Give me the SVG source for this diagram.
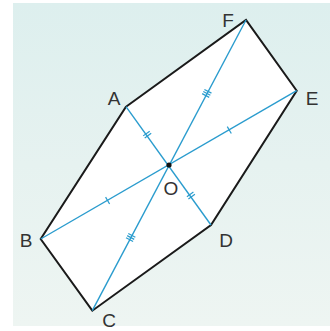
<svg xmlns="http://www.w3.org/2000/svg" width="330" height="331" viewBox="0 0 330 331">
<defs>
<linearGradient id="bg" x1="0" y1="0" x2="0" y2="1">
<stop offset="0" stop-color="#ddefee"/>
<stop offset="0.5" stop-color="#e6f2f0"/>
<stop offset="1" stop-color="#eef5f2"/>
</linearGradient>
<g id="t1"><line x1="0" y1="-4" x2="0" y2="4"/></g>
<g id="t2"><line x1="-1.3" y1="-4" x2="-1.3" y2="4"/><line x1="1.3" y1="-4" x2="1.3" y2="4"/></g>
<g id="t3"><line x1="-2.4" y1="-4" x2="-2.4" y2="4"/><line x1="0" y1="-4" x2="0" y2="4"/><line x1="2.4" y1="-4" x2="2.4" y2="4"/></g>
</defs>
<style>
.side{fill:#ffffff;stroke:#1a1a1a;stroke-width:2;stroke-linejoin:miter}
.diag{stroke:#2a9cce;stroke-width:1.4;fill:none}
.tick{stroke:#2a9cce;stroke-width:1.2}
.lbl{font-family:"Liberation Sans",Arial,sans-serif;font-size:19px;fill:#333;text-anchor:middle}
</style>
<rect width="330" height="331" fill="#ffffff"/>
<rect x="13" y="3" width="317" height="323" fill="url(#bg)"/>
<g id="hexagon">
<polygon class="side" points="126,106.7 246,20 296.7,90.7 211,225 92.3,310.7 40.7,239"/>
</g>
<g id="connectors">
<line class="diag" x1="126" y1="106.7" x2="211" y2="225"/>
<line class="diag" x1="40.7" y1="239" x2="296.7" y2="90.7"/>
<line class="diag" x1="92.3" y1="310.7" x2="246" y2="20"/>
<g class="tick">
<use href="#t2" transform="translate(147.2,134.6) rotate(54.3)"/>
<use href="#t2" transform="translate(190.9,195.5) rotate(54.3)"/>
<use href="#t3" transform="translate(206.8,93.4) rotate(-62.1)"/>
<use href="#t3" transform="translate(130.7,237.5) rotate(-62.1)"/>
<use href="#t1" transform="translate(229.3,130.1) rotate(-30.1)"/>
<use href="#t1" transform="translate(107.6,200.6) rotate(-30.1)"/>
</g>
</g>
<g id="O"><circle cx="169" cy="165" r="2.6" fill="#111"/><text class="lbl" x="171" y="195">O</text></g>
<g id="A"><text class="lbl" x="114" y="105">A</text></g>
<g id="B"><text class="lbl" x="26" y="247">B</text></g>
<g id="C"><text class="lbl" x="109" y="327">C</text></g>
<g id="D"><text class="lbl" x="226" y="247">D</text></g>
<g id="E"><text class="lbl" x="312" y="105">E</text></g>
<g id="F"><text class="lbl" x="228" y="27">F</text></g>
</svg>
